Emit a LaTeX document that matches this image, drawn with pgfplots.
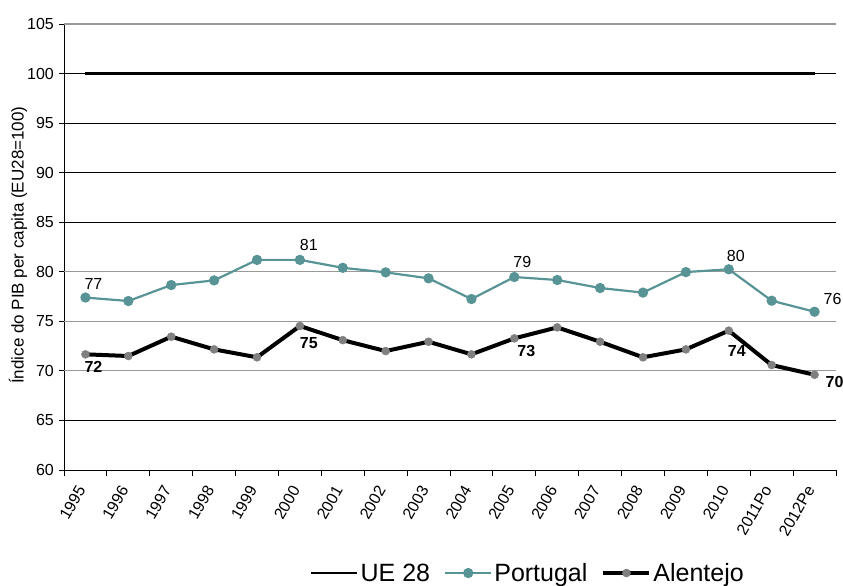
\documentclass[border=0pt]{standalone}
\usepackage{pgfplots}
\pgfplotsset{compat=1.18}
\usepackage{fontspec}
\setmainfont{Liberation Sans}
\definecolor{ptc}{HTML}{589496}
\definecolor{alc}{HTML}{808080}
\begin{document}
\begin{tikzpicture}
\begin{axis}[
  at={(0,0)}, anchor=south west,
  scale only axis, width=772bp, height=446bp,
  xmin=-0.5, xmax=17.5, ymin=60, ymax=105,
  /pgf/number format/assume math mode=true,
  axis x line*=bottom, axis y line*=left,
  axis line style={-, black, line width=0.8bp},
  xtick={0,...,17},
  xticklabels={1995,1996,1997,1998,1999,2000,2001,2002,2003,2004,2005,2006,2007,2008,2009,2010,2011Po,2012Pe},
  major x tick style={draw=none},
  minor xtick={-0.5,0.5,...,17.5},
  minor tick length=6bp,
  major tick length=5bp,
  tick align=outside,
  tick style={black, line width=0.8bp},
  xticklabel style={yshift=-12bp, xshift=-4bp, rotate=60, anchor=east, font=\fontsize{16bp}{18bp}\selectfont, inner sep=0bp},
  ytick={60,65,85,90,95,100},
  extra y ticks={70,75,80,105},
  extra y tick style={grid style={gray!80, line width=1.2bp}},
  yticklabel style={font=\fontsize{16bp}{18bp}\selectfont, inner sep=0bp, xshift=-5bp},
  ymajorgrids,
  grid style={black, line width=0.8bp},
  ylabel={Índice do PIB per capita (EU28=100)},
  ylabel style={at={(axis description cs:-0.0596,0.504)}, anchor=center, font=\fontsize{17bp}{19bp}\selectfont},
  legend style={at={(axis description cs:0.601,-0.231)}, anchor=center, legend columns=3, draw=none, fill=none,
    font=\fontsize{25bp}{27bp}\selectfont, inner sep=0pt, nodes={inner sep=2bp},
    /tikz/every even column/.append style={column sep=12bp}},
  legend image code/.code={\draw[mark repeat=2,mark phase=2,#1] plot coordinates {(0bp,0bp) (23bp,0bp) (46bp,0bp)};},
  clip=false,
]
\addplot[black, line width=2.5bp] coordinates {(0,100) (17,100)};
\addlegendentry{UE 28}
\addplot[ptc, line width=2.2bp, mark=*, mark size=4bp, mark options={ptc}] coordinates {
(0,77.4) (1,77.05) (2,78.66) (3,79.13) (4,81.2) (5,81.2) (6,80.4) (7,79.94) (8,79.34)
(9,77.25) (10,79.47) (11,79.17) (12,78.36) (13,77.9) (14,79.97) (15,80.25) (16,77.08) (17,75.97)};
\addlegendentry{Portugal}
\addplot[black, line width=4bp, mark=*, mark size=4bp, mark options={alc, draw=alc, fill=alc, line width=0.5bp}] coordinates {
(0,71.67) (1,71.5) (2,73.45) (3,72.17) (4,71.37) (5,74.53) (6,73.1) (7,72.0) (8,72.94)
(9,71.67) (10,73.28) (11,74.39) (12,72.94) (13,71.37) (14,72.17) (15,74.06) (16,70.59) (17,69.61)};
\addlegendentry{Alentejo}
\begin{scope}[every node/.style={font=\fontsize{16bp}{18bp}\selectfont, inner sep=0pt}]
\node at ([shift={(8bp,14bp)}]axis cs:0,77.4) {77};
\node at ([shift={(9bp,15bp)}]axis cs:5,81.2) {81};
\node at ([shift={(8bp,15bp)}]axis cs:10,79.47) {79};
\node at ([shift={(7bp,13bp)}]axis cs:15,80.25) {80};
\node at ([shift={(18bp,13bp)}]axis cs:17,75.97) {76};
\node[font=\fontsize{16bp}{18bp}\selectfont\bfseries] at ([shift={(8bp,-13bp)}]axis cs:0,71.67) {72};
\node[font=\fontsize{16bp}{18bp}\selectfont\bfseries] at ([shift={(9bp,-17bp)}]axis cs:5,74.53) {75};
\node[font=\fontsize{16bp}{18bp}\selectfont\bfseries] at ([shift={(12bp,-13bp)}]axis cs:10,73.28) {73};
\node[font=\fontsize{16bp}{18bp}\selectfont\bfseries] at ([shift={(8bp,-20bp)}]axis cs:15,74.06) {74};
\node[font=\fontsize{16bp}{18bp}\selectfont\bfseries] at ([shift={(20bp,-7bp)}]axis cs:17,69.61) {70};
\end{scope}
\end{axis}
\pgfresetboundingbox
\path[use as bounding box] (-64bp,-116bp) rectangle (779bp,470bp);
\end{tikzpicture}
\end{document}
